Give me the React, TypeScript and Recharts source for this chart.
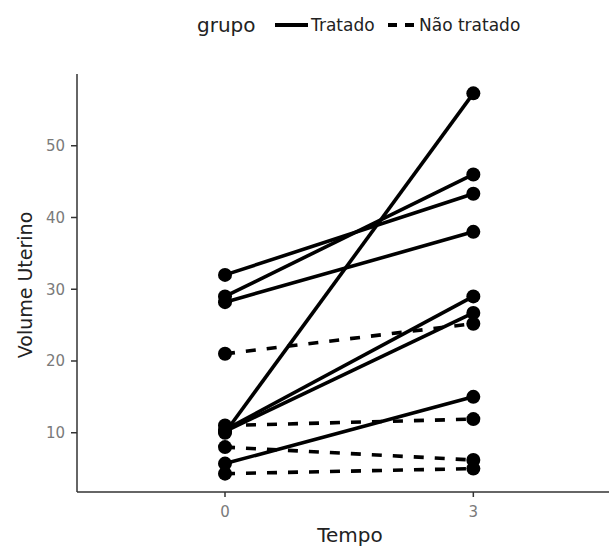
import { Label, Legend, Line, LineChart, XAxis, YAxis } from 'recharts';

// tempos medidos
const tempos = [0, 3];

// grupo tratado: volume no tempo 0 e no tempo 3, por paciente
const tratadoInicio = [32, 29, 28.2, 10.0, 10.4, 10.2, 5.7];
const tratadoFim = [43.3, 46, 38, 57.3, 29, 26.7, 15];

// grupo não tratado
const naoTratadoInicio = [21, 11, 8, 4.3];
const naoTratadoFim = [25.2, 11.9, 6.2, 5.0];

const yTicks = [10, 20, 30, 40, 50];
const xTicks = [0, 3];

const grupos = ['Tratado', 'Não tratado'];

const FONT = '"DejaVu Sans", sans-serif';
const INK = '#000000';

function serie(inicio: number[], fim: number[]) {
  return inicio.map((v, i) => [
    { t: tempos[0], v },
    { t: tempos[1], v: fim[i] },
  ]);
}

const seriesTratado = serie(tratadoInicio, tratadoFim);
const seriesNaoTratado = serie(naoTratadoInicio, naoTratadoFim);

function LegendaGrupo() {
  return (
    <svg width={360} height={30} style={{ fontFamily: FONT, display: 'block' }}>
      <text x={4} y={15} fontSize={20} fill="#222" dominantBaseline="central">
        grupo
      </text>
      <line x1={82} x2={115} y1={15} y2={15} stroke={INK} strokeWidth={4} />
      <text x={118} y={15} fontSize={17} fill="#222" dominantBaseline="central">
        {grupos[0]}
      </text>
      <line x1={195} x2={221} y1={15} y2={15} stroke={INK} strokeWidth={4} strokeDasharray="9 8" />
      <text x={226} y={15} fontSize={17} fill="#222" dominantBaseline="central">
        {grupos[1]}
      </text>
    </svg>
  );
}

function TituloY(props: any) {
  const vb = props.viewBox || { x: 0, y: 0, width: 0, height: 0 };
  const cx = vb.x + 17;
  const cy = vb.y + vb.height / 2 + 2;
  return (
    <text
      x={cx}
      y={cy}
      transform={`rotate(-90 ${cx} ${cy})`}
      textAnchor="middle"
      dominantBaseline="central"
      fontSize={19}
      fontFamily={FONT}
      fill="#222"
    >
      Volume Uterino
    </text>
  );
}

function TituloX(props: any) {
  const vb = props.viewBox || { x: 0, y: 0, width: 0, height: 0 };
  return (
    <text
      x={vb.x + vb.width / 2 + 7}
      y={vb.y + 43}
      textAnchor="middle"
      dominantBaseline="central"
      fontSize={20}
      fontFamily={FONT}
      fill="#222"
    >
      Tempo
    </text>
  );
}

export default function App() {
  const tick = { fontSize: 15, fontFamily: FONT, fill: '#7a7a7a' };
  return (
    <>
      {/* o eixo x do original vai até a borda direita da janela */}
      <style>{'body { margin: 0; }'}</style>
      <div style={{ width: 609, height: 547, padding: '8px 0 0 8px', boxSizing: 'border-box' }}>
        <LineChart width={601} height={539} margin={{ top: 36, right: 0, bottom: 0, left: 0 }}>
          <XAxis
            dataKey="t"
            type="number"
            domain={[-1.788, 4.639]}
            allowDataOverflow
            ticks={xTicks}
            tick={tick}
            tickSize={5}
            tickMargin={9}
            height={55}
            axisLine={{ stroke: '#333', strokeWidth: 1.5 }}
            tickLine={{ stroke: '#333', strokeWidth: 1.5 }}
          >
            <Label content={TituloX} />
          </XAxis>
          <YAxis
            type="number"
            domain={[1.74, 60]}
            allowDataOverflow
            ticks={yTicks}
            tick={tick}
            tickSize={6}
            tickMargin={6}
            width={69}
            axisLine={{ stroke: '#333', strokeWidth: 1.5 }}
            tickLine={{ stroke: '#333', strokeWidth: 1.5 }}
          >
            <Label content={TituloY} />
          </YAxis>
          <Legend
            verticalAlign="top"
            align="left"
            content={() => <LegendaGrupo />}
            wrapperStyle={{ position: 'absolute', top: 2, left: 185, width: 360, height: 30 }}
          />
          {seriesNaoTratado.map((d, i) => (
            <Line
              key={`n${i}`}
              data={d}
              dataKey="v"
              stroke={INK}
              strokeWidth={3.6}
              strokeDasharray="10 11"
              dot={{ r: 7, fill: INK, stroke: 'none' }}
              activeDot={false}
              isAnimationActive={false}
              legendType="none"
            />
          ))}
          {seriesTratado.map((d, i) => (
            <Line
              key={`t${i}`}
              data={d}
              dataKey="v"
              stroke={INK}
              strokeWidth={3.6}
              dot={{ r: 7, fill: INK, stroke: 'none' }}
              activeDot={false}
              isAnimationActive={false}
              legendType="none"
            />
          ))}
        </LineChart>
      </div>
    </>
  );
}
